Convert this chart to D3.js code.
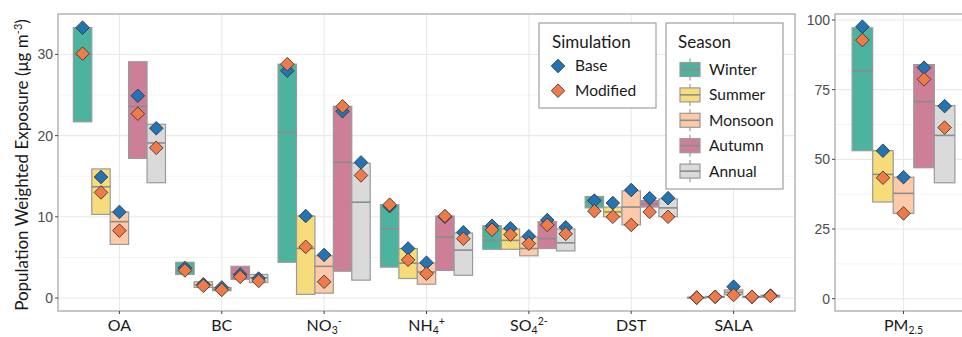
<!DOCTYPE html>
<html lang="en">
<head>
  <meta charset="UTF-8">
  <title>Population weighted exposure</title>
  <script src="https://d3js.org/d3.v7.min.js"></script>
  <style>
    body { margin: 0; background: #fff; }
    text { font-family: Lato, "Open Sans", sans-serif; }
  </style>
</head>
<body>
<script>
  // species shown in the left panel, PM2.5 in the right one
  const categories = ["OA", "BC", "NO3", "NH4", "SO4", "DST", "SALA"];
  const seasons = ["Winter", "Summer", "Monsoon", "Autumn", "Annual"];
  const simulations = ["Base", "Modified"];

  // rows = species, columns = seasons
  const boxLow = [
    [21.7, 10.3, 6.6, 17.2, 14.2],
    [2.9, 1.3, 0.9, 2.3, 1.9],
    [4.4, 0.45, 0.6, 3.3, 2.2],
    [3.8, 2.4, 1.7, 3.4, 2.8],
    [6.0, 6.0, 5.2, 6.1, 5.8],
    [11.1, 10.0, 9.0, 11.2, 10.0],
    [0.0, 0.1, 0.4, 0.1, 0.1]
  ];
  const boxMid = [
    [30.0, 13.7, 9.4, 23.6, 19.1],
    [3.4, 1.6, 1.1, 2.9, 2.5],
    [20.4, 6.1, 3.9, 16.7, 11.8],
    [8.5, 4.3, 3.2, 7.5, 5.9],
    [7.1, 7.1, 6.1, 7.3, 6.8],
    [11.8, 10.6, 11.2, 11.6, 11.1],
    [0.05, 0.15, 0.7, 0.15, 0.25]
  ];
  const boxHigh = [
    [33.3, 15.9, 10.6, 29.1, 21.4],
    [4.4, 2.0, 1.3, 3.9, 2.9],
    [28.8, 10.1, 5.2, 23.6, 16.6],
    [11.5, 6.1, 4.3, 10.1, 8.0],
    [8.9, 8.5, 7.5, 9.4, 8.5],
    [12.5, 11.2, 13.2, 12.0, 12.2],
    [0.1, 0.2, 1.0, 0.2, 0.35]
  ];
  const baseVals = [
    [33.3, 14.9, 10.6, 24.9, 20.9],
    [3.7, 1.7, 1.3, 2.9, 2.4],
    [28.0, 10.1, 5.3, 23.0, 16.7],
    [11.3, 6.1, 4.35, 10.0, 8.1],
    [8.9, 8.6, 7.6, 9.6, 8.7],
    [12.0, 11.7, 13.3, 12.3, 12.3],
    [0.05, 0.15, 1.4, 0.15, 0.3]
  ];
  const modifiedVals = [
    [30.1, 13.0, 8.3, 22.7, 18.5],
    [3.4, 1.5, 1.0, 2.6, 2.1],
    [28.8, 6.3, 2.0, 23.6, 15.1],
    [11.5, 4.7, 3.0, 10.1, 7.3],
    [8.4, 7.8, 6.7, 9.0, 7.9],
    [10.7, 10.0, 9.0, 10.6, 10.0],
    [0.04, 0.15, 0.37, 0.15, 0.25]
  ];

  // PM2.5 panel, columns = seasons
  const pmLow = [53.1, 34.7, 30.6, 47.0, 41.6];
  const pmMid = [81.8, 44.6, 37.8, 70.7, 58.6];
  const pmHigh = [97.2, 53.1, 43.6, 84.0, 69.3];
  const pmBase = [97.6, 53.1, 43.6, 82.9, 69.1];
  const pmModified = [92.8, 43.4, 30.6, 78.7, 61.4];

  const leftTicks = [0, 10, 20, 30];
  const rightTicks = [0, 25, 50, 75, 100];

  const seasonColor = d3.scaleOrdinal()
    .domain(seasons)
    .range(["#4cb39e", "#f6dc7a", "#fdcaa9", "#cc7f97", "#dadada"]);
  const simColor = d3.scaleOrdinal()
    .domain(simulations)
    .range(["#2374b4", "#f07a48"]);

  // label markup for chemical formulas
  const labelParts = {
    OA: [["OA", ""]],
    BC: [["BC", ""]],
    NO3: [["NO", ""], ["3", "sub"], ["-", "sup"]],
    NH4: [["NH", ""], ["4", "sub"], ["+", "sup"]],
    SO4: [["SO", ""], ["4", "sub"], ["2-", "sup"]],
    DST: [["DST", ""]],
    SALA: [["SALA", ""]],
    "PM2.5": [["PM", ""], ["2.5", "sub"]]
  };

  const width = 962, height = 337;
  const plotTop = 14, plotBottom = 311;

  const svg = d3.select("body").append("svg")
    .attr("width", width)
    .attr("height", height);

  function toRows(low, mid, high, base, mod, cat) {
    return seasons.map((s, j) => ({
      cat: cat, season: s,
      lo: low[j], mid: mid[j], hi: high[j],
      base: base[j], mod: mod[j]
    }));
  }

  function drawPanel(opts) {
    const x = d3.scalePoint()
      .domain(opts.cats)
      .range([opts.x0, opts.x1])
      .padding(0.6);
    const step = x.step();
    const dodge = d3.scaleBand()
      .domain(seasons)
      .range([-0.45 * step, 0.45 * step]);
    const y = d3.scaleLinear()
      .domain(opts.yDomain)
      .range([plotBottom, plotTop]);

    const g = svg.append("g");

    // minor grid
    const minor = opts.ticks.map(v => v + opts.minorStep);
    g.selectAll(".minor").data(minor.filter(v => y(v) > plotTop)).join("line")
      .attr("x1", opts.x0).attr("x2", opts.x1)
      .attr("y1", d => y(d)).attr("y2", d => y(d))
      .attr("stroke", "#f3f3f3").attr("stroke-width", 1);
    g.selectAll(".major").data(opts.ticks).join("line")
      .attr("x1", opts.x0).attr("x2", opts.x1)
      .attr("y1", d => y(d)).attr("y2", d => y(d))
      .attr("stroke", "#e9e9e9").attr("stroke-width", 1.1);
    g.selectAll(".vgrid").data(opts.cats).join("line")
      .attr("x1", d => x(d)).attr("x2", d => x(d))
      .attr("y1", plotTop).attr("y2", plotBottom)
      .attr("stroke", "#e9e9e9").attr("stroke-width", 1.1);

    // crossbars
    const boxW = dodge.bandwidth();
    const boxes = g.selectAll(".box").data(opts.rows).join("g");
    boxes.append("rect")
      .attr("x", d => x(d.cat) + dodge(d.season))
      .attr("y", d => y(d.hi))
      .attr("width", boxW)
      .attr("height", d => Math.max(1, y(d.lo) - y(d.hi)))
      .attr("fill", d => seasonColor(d.season))
      .attr("stroke", "#9a9a9a")
      .attr("stroke-width", 1.2);
    boxes.append("line")
      .attr("x1", d => x(d.cat) + dodge(d.season))
      .attr("x2", d => x(d.cat) + dodge(d.season) + boxW)
      .attr("y1", d => y(d.mid)).attr("y2", d => y(d.mid))
      .attr("stroke", "#8c8c8c")
      .attr("stroke-width", 1.6);

    // diamonds: base first, modified on top
    const diamond = d3.symbol().type(d3.symbolSquare).size(92);
    simulations.forEach(sim => {
      g.selectAll(".pt-" + sim).data(opts.rows).join("path")
        .attr("d", diamond)
        .attr("transform", d => "translate(" + (x(d.cat) + dodge(d.season) + boxW / 2) + "," +
          y(sim === "Base" ? d.base : d.mod) + ") rotate(45)")
        .attr("fill", simColor(sim))
        .attr("stroke", "#333")
        .attr("stroke-width", 0.8);
    });

    // panel border
    g.append("rect")
      .attr("x", opts.x0).attr("y", plotTop)
      .attr("width", opts.x1 - opts.x0).attr("height", plotBottom - plotTop)
      .attr("fill", "none")
      .attr("stroke", "#b0b0b0")
      .attr("stroke-width", 1.4);

    // y axis ticks and labels
    g.selectAll(".yt").data(opts.ticks).join("line")
      .attr("x1", opts.x0 - 3).attr("x2", opts.x0)
      .attr("y1", d => y(d)).attr("y2", d => y(d))
      .attr("stroke", "#444");
    g.selectAll(".yl").data(opts.ticks).join("text")
      .attr("x", opts.x0 - 5)
      .attr("y", d => y(d))
      .attr("dy", "0.35em")
      .attr("text-anchor", "end")
      .style("font-family", "'Liberation Sans', Arial, sans-serif")
      .style("font-size", "14px")
      .attr("fill", "#4d4d4d")
      .text(d => d);

    // x axis ticks and labels
    g.selectAll(".xt").data(opts.cats).join("line")
      .attr("x1", d => x(d)).attr("x2", d => x(d))
      .attr("y1", plotBottom).attr("y2", plotBottom + 3)
      .attr("stroke", "#444");
    const xl = g.selectAll(".xl").data(opts.cats).join("text")
      .attr("x", d => x(d))
      .attr("y", 331)
      .attr("text-anchor", "middle")
      .style("font-size", "16px")
      .attr("fill", "#1a1a1a");
    xl.each(function (d) {
      const t = d3.select(this);
      let shift = 0;
      labelParts[d].forEach(p => {
        const ts = t.append("tspan").text(p[0]);
        let target = 0;
        if (p[1] === "sub") { target = 3; ts.style("font-size", "10.5px"); }
        if (p[1] === "sup") { target = -6; ts.style("font-size", "10.5px"); }
        ts.attr("dy", target - shift);
        shift = target;
      });
    });
  }

  const leftRows = [];
  categories.forEach((c, i) => {
    toRows(boxLow[i], boxMid[i], boxHigh[i], baseVals[i], modifiedVals[i], c)
      .forEach(r => leftRows.push(r));
  });

  drawPanel({
    cats: categories, rows: leftRows,
    x0: 58, x1: 795,
    yDomain: [-1.6, 34.98],
    ticks: leftTicks, minorStep: 5
  });

  drawPanel({
    cats: ["PM2.5"],
    rows: toRows(pmLow, pmMid, pmHigh, pmBase, pmModified, "PM2.5"),
    x0: 835, x1: 972,
    yDomain: [-4.41, 102.15],
    ticks: rightTicks, minorStep: 12.5
  });

  // y axis title
  const yTitle = svg.append("text")
    .attr("transform", "translate(28,165) rotate(-90)")
    .attr("text-anchor", "middle")
    .style("font-size", "17px")
    .attr("fill", "#1a1a1a");
  yTitle.append("tspan").text("Population Weighted Exposure (μg m");
  yTitle.append("tspan").attr("dy", -6).style("font-size", "11px").text("-3");
  yTitle.append("tspan").attr("dy", 6).text(")");

  // legends
  const legSim = svg.append("g").attr("transform", "translate(539,23)");
  legSim.append("rect")
    .attr("width", 117).attr("height", 85)
    .attr("fill", "#fff").attr("stroke", "#a0a0a0").attr("stroke-width", 1.2);
  legSim.append("text")
    .attr("x", 13).attr("y", 25)
    .style("font-size", "17px").attr("fill", "#1a1a1a")
    .text("Simulation");
  const simItems = legSim.selectAll(".si").data(simulations).join("g")
    .attr("transform", (d, i) => "translate(19," + (43 + i * 24.7) + ")");
  simItems.append("path")
    .attr("d", d3.symbol().type(d3.symbolSquare).size(92))
    .attr("transform", "rotate(45)")
    .attr("fill", d => simColor(d))
    .attr("stroke", "#333").attr("stroke-width", 0.8);
  simItems.append("text")
    .attr("x", 17).attr("dy", "0.35em")
    .style("font-size", "15.5px").attr("fill", "#1a1a1a")
    .text(d => d);

  const legSea = svg.append("g").attr("transform", "translate(666,23)");
  legSea.append("rect")
    .attr("width", 117).attr("height", 166)
    .attr("fill", "#fff").attr("stroke", "#a0a0a0").attr("stroke-width", 1.2);
  legSea.append("text")
    .attr("x", 12).attr("y", 25)
    .style("font-size", "17px").attr("fill", "#1a1a1a")
    .text("Season");
  const seaItems = legSea.selectAll(".se").data(seasons).join("g")
    .attr("transform", (d, i) => "translate(24," + (46.5 + i * 25.4) + ")");
  seaItems.append("line")
    .attr("y1", -11).attr("y2", 11)
    .attr("stroke", "#9a9a9a").attr("stroke-width", 1.2);
  seaItems.append("rect")
    .attr("x", -10).attr("y", -7).attr("width", 20).attr("height", 14)
    .attr("fill", d => seasonColor(d))
    .attr("stroke", "#9a9a9a").attr("stroke-width", 1.2);
  seaItems.append("line")
    .attr("x1", -10).attr("x2", 10)
    .attr("stroke", "#8c8c8c").attr("stroke-width", 1.6);
  seaItems.append("text")
    .attr("x", 19).attr("dy", "0.35em")
    .style("font-size", "15.5px").attr("fill", "#1a1a1a")
    .text(d => d);
</script>
</body>
</html>
